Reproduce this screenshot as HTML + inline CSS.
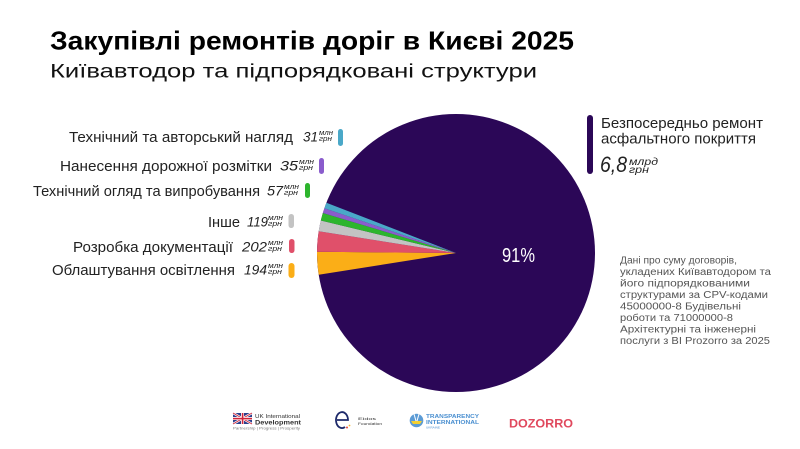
<!DOCTYPE html>
<html><head><meta charset="utf-8"><style>
html,body{margin:0;padding:0;background:#fff;}
svg{display:block;}
text{font-family:"Liberation Sans","DejaVu Sans",sans-serif;}
</style></head><body>
<svg width="800" height="449" viewBox="0 0 800 449" xmlns="http://www.w3.org/2000/svg">
<rect width="800" height="449" fill="#fff"/>
<!-- Title -->
<text x="50" y="49.5" font-size="26" font-weight="bold" fill="#000" textLength="524" lengthAdjust="spacingAndGlyphs">Закупівлі ремонтів доріг в Києві 2025</text>
<text x="50" y="77.5" font-size="19" fill="#111" textLength="487" lengthAdjust="spacingAndGlyphs">Київавтодор та підпорядковані структури</text>

<!-- Pie -->
<circle cx="456" cy="253" r="139" fill="#2b0757"/>
<path d="M456 253 L318.71 274.74 A139 139 0 0 1 317.01 251.79 Z" fill="#fbae17"/>
<path d="M456 253 L317.01 251.79 A139 139 0 0 1 318.71 231.26 Z" fill="#e0506a"/>
<path d="M456 253 L318.71 231.26 A139 139 0 0 1 320.84 220.55 Z" fill="#c3c3c3"/>
<path d="M456 253 L320.84 220.55 A139 139 0 0 1 322.86 213.06 Z" fill="#2db52d"/>
<path d="M456 253 L322.86 213.06 A139 139 0 0 1 324.42 208.20 Z" fill="#8a5ccc"/>
<path d="M456 253 L324.42 208.20 A139 139 0 0 1 326.41 202.73 Z" fill="#4aa8c8"/>
<text x="502" y="262" font-size="20" fill="#fff" textLength="33" lengthAdjust="spacingAndGlyphs">91%</text>

<!-- Left labels -->
<g fill="#222" font-size="15">
<text x="69" y="142" textLength="224" lengthAdjust="spacingAndGlyphs">Технічний та авторський нагляд</text>
<text x="60" y="171" textLength="212" lengthAdjust="spacingAndGlyphs">Нанесення дорожної розмітки</text>
<text x="33" y="196" textLength="227" lengthAdjust="spacingAndGlyphs">Технічний огляд та випробування</text>
<text x="208" y="227" textLength="32" lengthAdjust="spacingAndGlyphs">Інше</text>
<text x="73" y="252" textLength="160" lengthAdjust="spacingAndGlyphs">Розробка документації</text>
<text x="52" y="275" textLength="183" lengthAdjust="spacingAndGlyphs">Облаштування освітлення</text>
</g>
<g fill="#222" font-style="italic">
<text x="303" y="141.5" font-size="14" textLength="15" lengthAdjust="spacingAndGlyphs">31</text>
<text x="319" y="135" font-size="7.5" textLength="14" lengthAdjust="spacingAndGlyphs">млн</text>
<text x="319" y="141" font-size="7.5" textLength="13" lengthAdjust="spacingAndGlyphs">грн</text>

<text x="280" y="170.5" font-size="14" textLength="18" lengthAdjust="spacingAndGlyphs">35</text>
<text x="299" y="164" font-size="7.5" textLength="15" lengthAdjust="spacingAndGlyphs">млн</text>
<text x="299" y="170" font-size="7.5" textLength="14" lengthAdjust="spacingAndGlyphs">грн</text>

<text x="267" y="195.5" font-size="14" textLength="16" lengthAdjust="spacingAndGlyphs">57</text>
<text x="284" y="189" font-size="7.5" textLength="15" lengthAdjust="spacingAndGlyphs">млн</text>
<text x="284" y="195" font-size="7.5" textLength="14" lengthAdjust="spacingAndGlyphs">грн</text>

<text x="247" y="226.5" font-size="14" textLength="21" lengthAdjust="spacingAndGlyphs">119</text>
<text x="268" y="220" font-size="7.5" textLength="15" lengthAdjust="spacingAndGlyphs">млн</text>
<text x="268" y="226" font-size="7.5" textLength="14" lengthAdjust="spacingAndGlyphs">грн</text>

<text x="242" y="251.5" font-size="14" textLength="25" lengthAdjust="spacingAndGlyphs">202</text>
<text x="268" y="245" font-size="7.5" textLength="15" lengthAdjust="spacingAndGlyphs">млн</text>
<text x="268" y="251" font-size="7.5" textLength="14" lengthAdjust="spacingAndGlyphs">грн</text>

<text x="244" y="274.5" font-size="14" textLength="23" lengthAdjust="spacingAndGlyphs">194</text>
<text x="268" y="268" font-size="7.5" textLength="15" lengthAdjust="spacingAndGlyphs">млн</text>
<text x="268" y="274" font-size="7.5" textLength="14" lengthAdjust="spacingAndGlyphs">грн</text>
</g>
<!-- pills -->
<rect x="338" y="129" width="5" height="17" rx="2.5" fill="#4aa8c8"/>
<rect x="319" y="158" width="5" height="16" rx="2.5" fill="#8a5ccc"/>
<rect x="305" y="183" width="5" height="15" rx="2.5" fill="#2db52d"/>
<rect x="288.5" y="214" width="5.5" height="14" rx="2.7" fill="#c3c3c3"/>
<rect x="289" y="239" width="5.5" height="14" rx="2.7" fill="#e0506a"/>
<rect x="288.5" y="263" width="6" height="15" rx="3" fill="#fbae17"/>

<!-- Right legend -->
<rect x="587" y="115" width="6" height="59" rx="3" fill="#2b0757"/>
<g fill="#222">
<text x="601" y="128" font-size="15" textLength="162" lengthAdjust="spacingAndGlyphs">Безпосередньо ремонт</text>
<text x="601" y="143.5" font-size="15" textLength="155" lengthAdjust="spacingAndGlyphs">асфальтного покриття</text>
<text x="600" y="172" font-size="22" font-style="italic" textLength="27" lengthAdjust="spacingAndGlyphs">6,8</text>
<text x="629" y="165" font-size="10" font-style="italic" textLength="29" lengthAdjust="spacingAndGlyphs">млрд</text>
<text x="629" y="173" font-size="10" font-style="italic" textLength="20" lengthAdjust="spacingAndGlyphs">грн</text>
</g>

<!-- Note -->
<g fill="#555" font-size="10">
<text x="620" y="263.5" textLength="117" lengthAdjust="spacingAndGlyphs">Дані про суму договорів,</text>
<text x="620" y="275" textLength="151" lengthAdjust="spacingAndGlyphs">укладених Київавтодором та</text>
<text x="620" y="286.5" textLength="130" lengthAdjust="spacingAndGlyphs">його підпорядкованими</text>
<text x="620" y="298" textLength="148" lengthAdjust="spacingAndGlyphs">структурами за CPV-кодами</text>
<text x="620" y="309.5" textLength="121" lengthAdjust="spacingAndGlyphs">45000000-8 Будівельні</text>
<text x="620" y="321" textLength="113" lengthAdjust="spacingAndGlyphs">роботи та 71000000-8</text>
<text x="620" y="332.5" textLength="136" lengthAdjust="spacingAndGlyphs">Архітектурні та інженерні</text>
<text x="620" y="344" textLength="150" lengthAdjust="spacingAndGlyphs">послуги з BI Prozorro за 2025</text>
</g>

<!-- Logos -->
<g>
<rect x="233" y="413" width="19" height="11" fill="#2a3e8c"/>
<path d="M233 413 L252 424 M252 413 L233 424" stroke="#fff" stroke-width="2.4"/>
<path d="M233 413 L252 424 M252 413 L233 424" stroke="#d0253a" stroke-width="0.9"/>
<rect x="233" y="417" width="19" height="3" fill="#fff"/>
<rect x="241" y="413" width="3" height="11" fill="#fff"/>
<rect x="233" y="417.8" width="19" height="1.6" fill="#d0253a"/>
<rect x="241.8" y="413" width="1.6" height="11" fill="#d0253a"/>
</g>
<text x="255" y="418" font-size="5.5" fill="#333" textLength="45" lengthAdjust="spacingAndGlyphs">UK International</text>
<text x="255" y="424.5" font-size="6.5" font-weight="bold" fill="#333" textLength="46" lengthAdjust="spacingAndGlyphs">Development</text>
<text x="233" y="429.5" font-size="3.2" fill="#777" textLength="67" lengthAdjust="spacingAndGlyphs">Partnership | Progress | Prosperity</text>
<g>
<path d="M337 420 H348 A6 8 0 1 0 345 427" fill="none" stroke="#1e2a6a" stroke-width="1.8"/>
<circle cx="347" cy="427.5" r="1" fill="#e94b3c"/>
<circle cx="349.5" cy="425.5" r="0.9" fill="#f5b82e"/>
</g>
<text x="358" y="420" font-size="3.5" fill="#333" textLength="18" lengthAdjust="spacingAndGlyphs">Eidos</text>
<text x="358" y="425" font-size="3.5" fill="#333" textLength="24" lengthAdjust="spacingAndGlyphs">Foundation</text>
<circle cx="416.5" cy="420.5" r="6.8" fill="#5b9bd5"/>
<path d="M411 421 H422 L420 424 H413 Z" fill="#f5d02e"/>
<path d="M414 414 L416 421 M419 414 L417 421" stroke="#fff" stroke-width="1"/>
<text x="426" y="418" font-size="5.5" font-weight="bold" fill="#4a8fd0" textLength="53" lengthAdjust="spacingAndGlyphs">TRANSPARENCY</text>
<text x="426" y="424" font-size="5.5" font-weight="bold" fill="#4a8fd0" textLength="53" lengthAdjust="spacingAndGlyphs">INTERNATIONAL</text>
<text x="426" y="428.5" font-size="3" fill="#4a8fd0" textLength="14" lengthAdjust="spacingAndGlyphs">UKRAINE</text>
<text x="509" y="427.5" font-size="12" font-weight="bold" fill="#e0485d" textLength="64" lengthAdjust="spacingAndGlyphs">DOZORRO</text>
</svg>
</body></html>
